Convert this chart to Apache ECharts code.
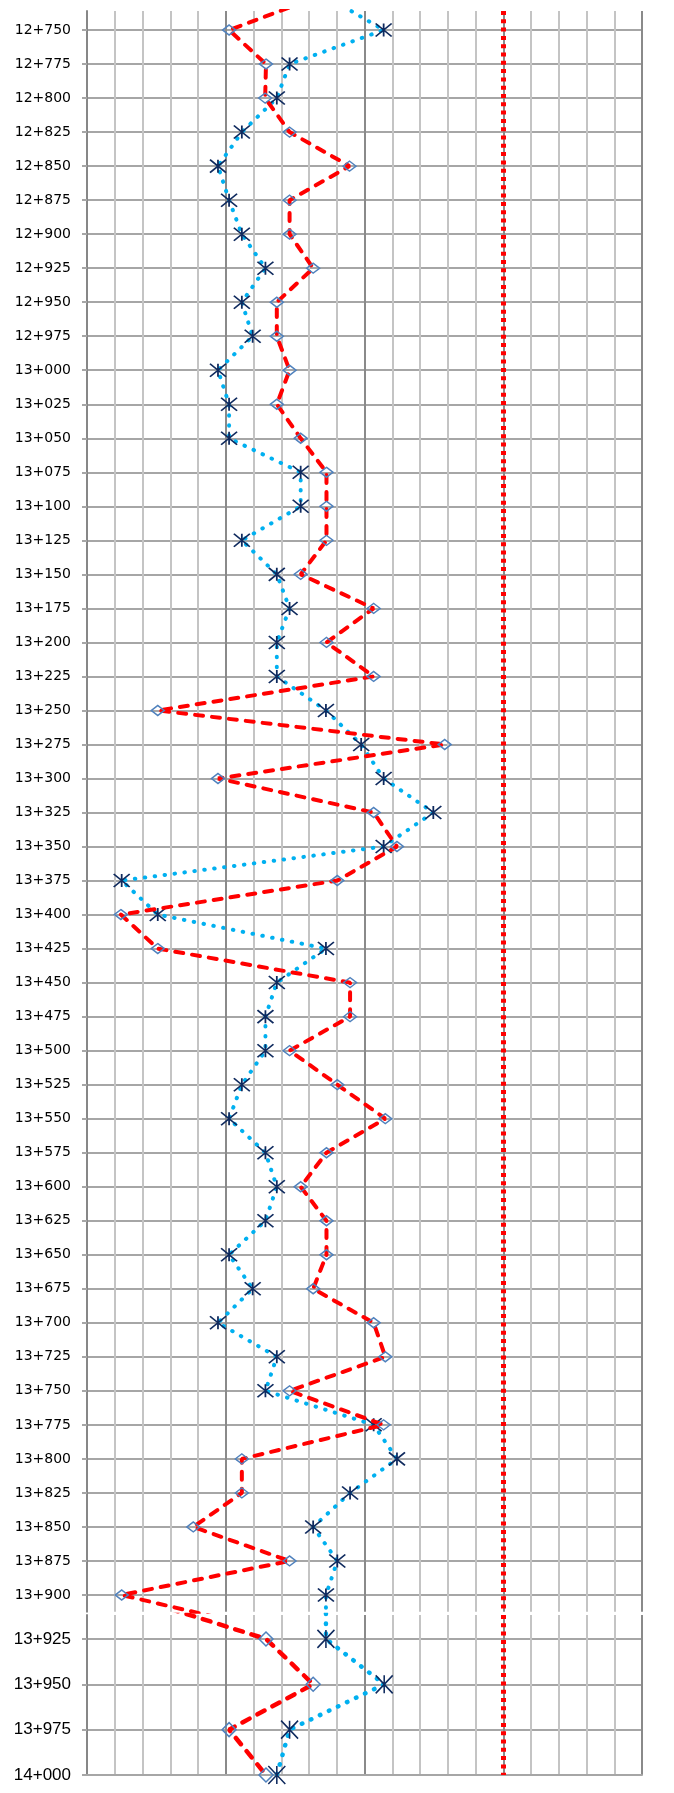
<!DOCTYPE html>
<html>
<head>
<meta charset="utf-8">
<script src="https://cdn.jsdelivr.net/npm/echarts@6/dist/echarts.min.js"></script>
<style>
html,body{margin:0;padding:0;background:#fff;overflow:hidden}
#c{width:674px;height:1793px}
</style>
</head>
<body>
<div id="c"></div>
<script>
// Chainages (first one lies just above the visible area and is clipped)
const stations = ['12+725','12+750','12+775','12+800','12+825','12+850','12+875','12+900','12+925','12+950','12+975',
  '13+000','13+025','13+050','13+075','13+100','13+125','13+150','13+175','13+200','13+225',
  '13+250','13+275','13+300','13+325','13+350','13+375','13+400','13+425','13+450','13+475',
  '13+500','13+525','13+550','13+575','13+600','13+625','13+650','13+675','13+700','13+725',
  '13+750','13+775','13+800','13+825','13+850','13+875','13+900','13+925','13+950','13+975','14+000'];

// Red dashed series (diamond markers)
const redValues = [8.4,5.12,6.45,6.42,7.30,9.46,7.30,7.30,8.15,6.84,6.84,
  7.30,6.84,7.70,8.63,8.63,8.63,7.70,10.33,8.63,10.33,
  2.55,12.89,4.72,10.33,11.17,9.02,1.22,2.55,9.48,9.48,
  7.30,9.02,10.75,8.63,7.70,8.63,8.63,8.15,10.33,10.75,
  7.30,10.69,5.58,5.58,3.83,7.30,1.25,6.45,8.15,5.12,6.45];

// Blue dotted series (asterisk markers)
const blueValues = [8.6,10.69,7.30,6.84,5.58,4.72,5.12,5.58,6.43,5.58,5.97,
  4.72,5.12,5.12,7.70,7.70,5.58,6.84,7.30,6.84,6.84,
  8.61,9.88,10.69,12.48,10.69,1.25,2.55,8.61,6.84,6.43,
  6.43,5.58,5.12,6.43,6.84,6.43,5.12,5.97,4.72,6.84,
  6.43,10.33,11.17,9.48,8.15,9.02,8.61,8.61,10.71,7.30,6.84];

// Vertical limit line
const limitValue = 15;

// X axis range (labels hidden in the original)
const xMin = 0, xMax = 20, xInterval = 5;

const toM = s => { const p = s.split('+'); return (+p[0]) * 1000 + (+p[1]); };
const ys = stations.map(toM);
const labelMap = {};
stations.forEach((s, i) => { labelMap[ys[i]] = s; });

const topRange = [12736, 13912.3];
const botRange = [13911.8, 14000];

const pairs = arr => arr.map((v, i) => [v, ys[i]]);
const redTop = pairs(redValues).filter(p => p[1] <= 13925);
const redBot = pairs(redValues).filter(p => p[1] >= 13900);
const blueTop = pairs(blueValues).filter(p => p[1] <= 13925);
const blueBot = pairs(blueValues).filter(p => p[1] >= 13900);

function yAx(gi, range, font, size) {
  const ticks = ys.filter(v => v >= range[0] && v <= range[1]);
  return {
    type: 'value', gridIndex: gi, inverse: true, min: range[0], max: range[1],
    axisLine: { show: true, lineStyle: { color: '#878787', width: 2 } },
    axisTick: { show: true, length: 5, customValues: ticks, lineStyle: { color: '#A6A6A6', width: 2 } },
    axisLabel: { customValues: ticks, formatter: v => labelMap[Math.round(v)] || '', margin: 16,
      color: '#000', fontFamily: font, fontSize: size },
    splitLine: { show: true, lineStyle: { color: '#A6A6A6', width: 2 } }
  };
}
function xAx(gi, bottomLine) {
  return {
    type: 'value', gridIndex: gi, min: xMin, max: xMax, interval: xInterval,
    axisLabel: { show: false }, axisTick: { show: false },
    axisLine: { show: bottomLine, onZero: false, lineStyle: { color: '#A6A6A6', width: 2 } },
    splitLine: { show: true, lineStyle: { color: '#8A8A8A', width: 2 } },
    minorTick: { show: false, splitNumber: 5 },
    minorSplitLine: { show: true, lineStyle: { color: '#C4C4C4', width: 2 } }
  };
}
const asterisk = 'path://M0,0L12,12M12,0L0,12M6,0L6,12';
function blueSeries(gi, data, big) {
  return {
    type: 'line', xAxisIndex: gi, yAxisIndex: gi, data: data, clip: true,
    symbol: asterisk, symbolKeepAspect: false,
    symbolSize: big ? [17, 18] : [16, 13],
    itemStyle: { color: 'rgba(0,0,0,0)', borderColor: '#0F2A5E', borderWidth: 1.6 },
    lineStyle: { color: '#00B0F0', width: big ? 4.5 : 4, type: [0.5, 9.5], cap: 'round' },
    z: 3
  };
}
function redSeries(gi, data, big) {
  return {
    type: 'line', xAxisIndex: gi, yAxisIndex: gi, data: data, clip: true,
    symbol: 'diamond', symbolKeepAspect: false,
    symbolSize: big ? [14, 14] : [13, 10],
    itemStyle: { color: 'rgba(0,0,0,0)', borderColor: '#4F81BD', borderWidth: 1.5 },
    lineStyle: { color: '#FF0000', width: big ? 4.5 : 4, type: [8, 9], cap: 'round' },
    z: 4,
    markLine: {
      silent: true, symbol: 'none', animation: false, label: { show: false },
      lineStyle: { color: '#FF0000', width: 5, type: [4, 4.3], cap: 'butt' },
      data: [{ xAxis: limitValue }]
    }
  };
}

const chart = echarts.init(document.getElementById('c'), null, { renderer: 'canvas' });
chart.setOption({
  animation: false,
  backgroundColor: '#fff',
  grid: [
    { left: 87, right: 32, top: 11, height: 1600.7 },
    { left: 87, right: 32, top: 1615, height: 160 }
  ],
  xAxis: [xAx(0, false), xAx(1, true)],
  yAxis: [
    yAx(0, topRange, 'DejaVu Sans', 14),
    yAx(1, botRange, 'Liberation Sans', 17)
  ],
  series: [
    blueSeries(0, blueTop, false),
    redSeries(0, redTop, false),
    blueSeries(1, blueBot, true),
    redSeries(1, redBot, true)
  ]
});
</script>
</body>
</html>
